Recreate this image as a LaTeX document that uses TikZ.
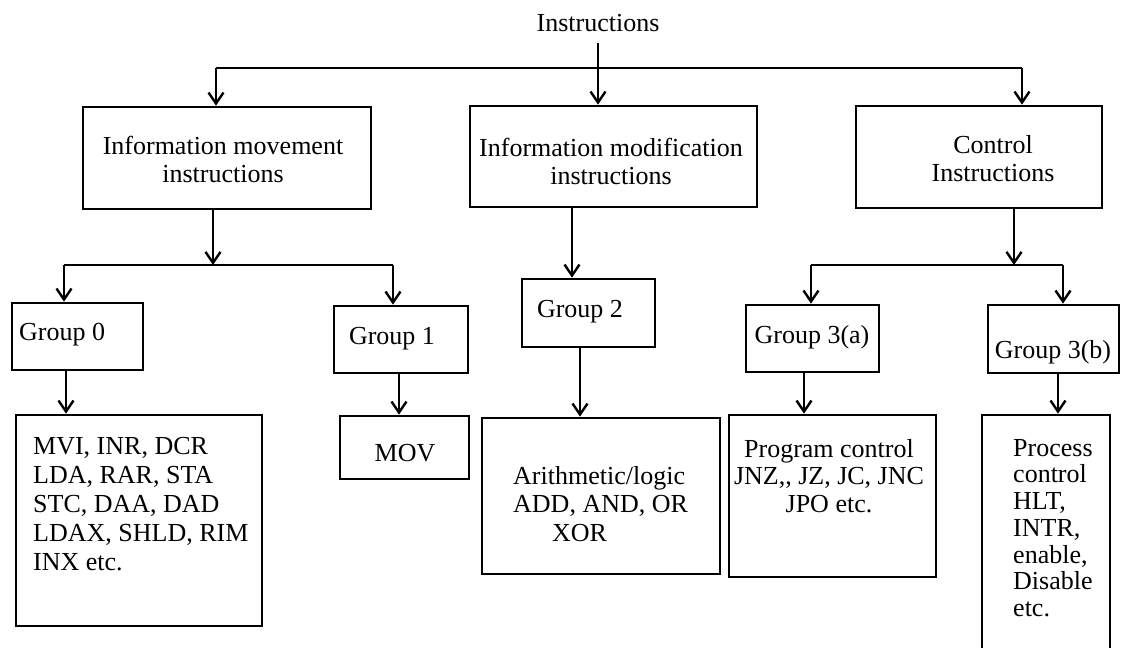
\documentclass[tikz,border=0pt]{standalone}
\usepackage{fontspec}
\setmainfont{Liberation Serif}
\usetikzlibrary{arrows.meta}
\tikzset{
  box/.style={draw, line width=2.7pt, inner sep=0pt, rectangle},
  txt/.style={font=\fontsize{26}{28}\selectfont, inner sep=0pt, align=center},
  conn/.style={line width=2.4pt, -{Straight Barb[length=11pt,width=15pt]}},
  plain/.style={line width=2.4pt}
}
\begin{document}
\begin{tikzpicture}[x=1pt,y=-1pt]
\useasboundingbox[fill=white] (0,0) rectangle (1122,648);

% title
\node[txt] (title) at (598,23) {Instructions};

% level 1 boxes
\node[box, minimum width=288pt, minimum height=102pt] (b1) at (227,158) {};
\node[txt] (b1t) at (223,159) {Information movement\\instructions};
\node[box, minimum width=287pt, minimum height=101pt] (b2) at (613.5,156.5) {};
\node[txt] (b2t) at (611,161) {Information modification\\instructions};
\node[box, minimum width=246pt, minimum height=102pt] (b3) at (979,157) {};
\node[txt] (b3t) at (993,159) {Control\\Instructions};

% level 2 boxes
\node[box, minimum width=131pt, minimum height=67pt] (g0) at (77.5,336.5) {};
\node[txt, anchor=west] (g0t) at (19,335) {Group 0};
\node[box, minimum width=134pt, minimum height=67pt] (g1) at (401,339.5) {};
\node[txt] (g1t) at (392,339) {Group 1};
\node[box, minimum width=133pt, minimum height=68pt] (g2) at (588.5,313) {};
\node[txt] (g2t) at (580,312) {Group 2};
\node[box, minimum width=133pt, minimum height=67pt] (g3a) at (812.5,338.5) {};
\node[txt] (g3at) at (812,337) {Group 3(a)};
\node[box, minimum width=131pt, minimum height=68pt] (g3b) at (1053.5,339) {};
\node[txt] (g3bt) at (1053,352) {Group 3(b)};

% level 3 boxes
\node[box, minimum width=246pt, minimum height=211pt] (m0) at (139,520.5) {};
\node[txt, anchor=west, align=left, font=\fontsize{26}{29.2}\selectfont] (m0t) at (33,504)
  {MVI, INR, DCR\\LDA, RAR, STA\\STC, DAA, DAD\\LDAX, SHLD, RIM\\INX etc.};
\node[box, minimum width=129pt, minimum height=63pt] (m1) at (404.5,447.5) {};
\node[txt] (m1t) at (405,453) {MOV};
\node[box, minimum width=238pt, minimum height=156pt] (m2) at (601,496) {};
\node[txt, anchor=west, align=left, font=\fontsize{26}{28.5}\selectfont] (m2t) at (513,504)
  {Arithmetic/logic\\ADD, AND, OR\\\hspace*{39pt}XOR};
\node[box, minimum width=207pt, minimum height=162pt] (m3a) at (832.5,496) {};
\node[txt, font=\fontsize{26}{27.5}\selectfont] (m3at) at (829,476)
  {Program control\\JNZ,{},{} JZ, JC, JNC\\JPO etc.};
\node[box, minimum width=128pt, minimum height=250pt] (m3b) at (1046,540) {};
\node[txt, anchor=west, align=left, font=\fontsize{26}{26.7}\selectfont] (m3bt) at (1013,528)
  {Process\\control\\HLT,\\INTR,\\enable,\\Disable\\etc.};

% connectors level 0 -> 1
\coordinate (ts) at (598,43);
\coordinate (hl) at (216,68);
\coordinate (hr) at (1022,68);
\draw[plain] (hl) -- (hr);
\draw[conn] (ts) -- (ts |- b2.north);
\draw[conn] (hl) -- (hl |- b1.north);
\draw[conn] (hr) -- (hr |- b3.north);

% box1 -> groups 0,1
\coordinate (a1) at (213,265);
\coordinate (a1l) at (64,265);
\coordinate (a1r) at (393,265);
\draw[conn] (a1 |- b1.south) -- (a1);
\draw[plain] (a1l) -- (a1r);
\draw[conn] (a1l) -- (a1l |- g0.north);
\draw[conn] (a1r) -- (a1r |- g1.north);

% box2 -> group 2
\coordinate (a2) at (572,250);
\draw[conn] (a2 |- b2.south) -- (a2 |- g2.north);

% box3 -> groups 3a,3b
\coordinate (a3) at (1014,265);
\coordinate (a3l) at (811,265);
\coordinate (a3r) at (1063,265);
\draw[conn] (a3 |- b3.south) -- (a3);
\draw[plain] (a3l) -- (a3r);
\draw[conn] (a3l) -- (a3l |- g3a.north);
\draw[conn] (a3r) -- (a3r |- g3b.north);

% groups -> details
\coordinate (d0) at (66,390);
\coordinate (d1) at (399,390);
\coordinate (d2) at (580,390);
\coordinate (d3) at (804,390);
\coordinate (d4) at (1058,390);
\draw[conn] (d0 |- g0.south) -- (d0 |- m0.north);
\draw[conn] (d1 |- g1.south) -- (d1 |- m1.north);
\draw[conn] (d2 |- g2.south) -- (d2 |- m2.north);
\draw[conn] (d3 |- g3a.south) -- (d3 |- m3a.north);
\draw[conn] (d4 |- g3b.south) -- (d4 |- m3b.north);
\end{tikzpicture}
\end{document}
